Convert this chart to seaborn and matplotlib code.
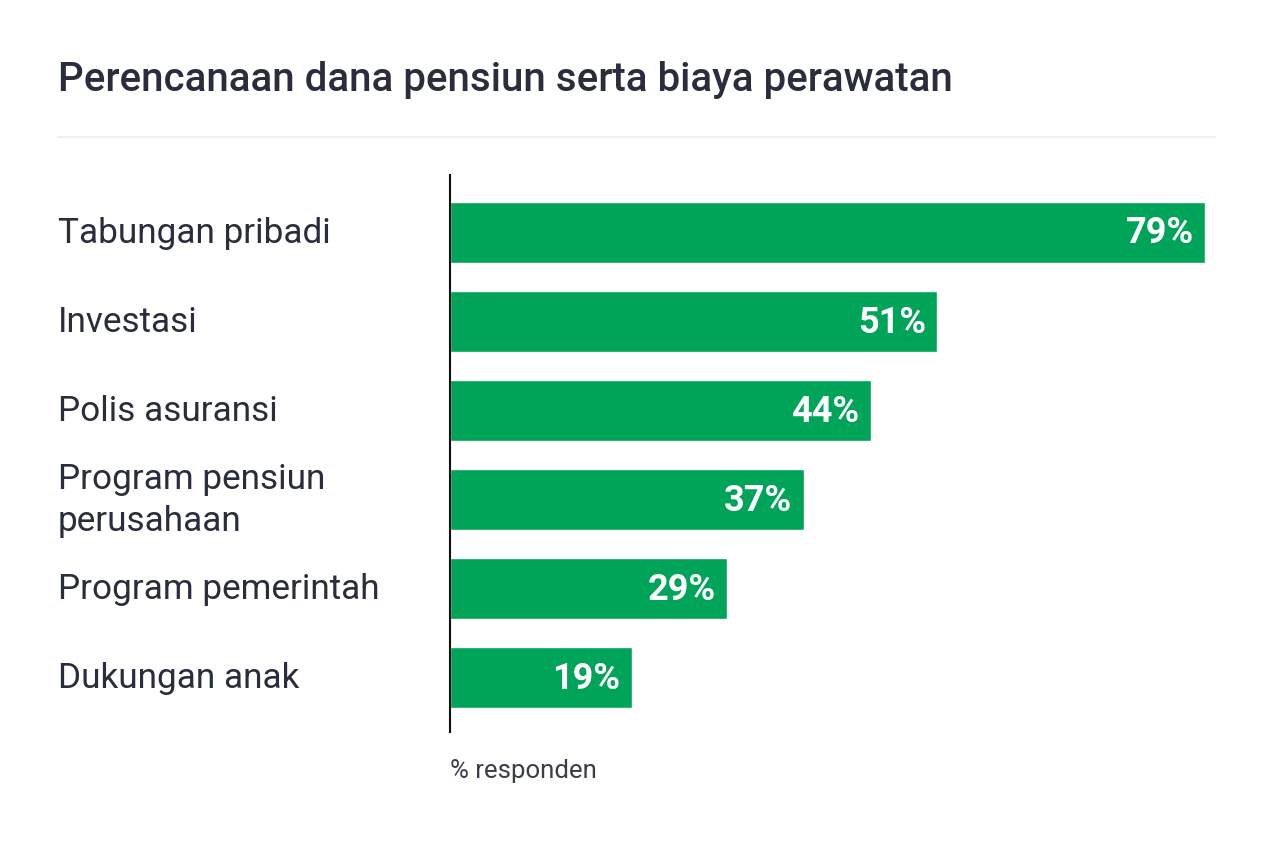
import matplotlib
matplotlib.use("Agg")
import matplotlib.pyplot as plt
import seaborn as sns
import pandas as pd

# data
kategori = [
    "Tabungan pribadi",
    "Investasi",
    "Polis asuransi",
    "Program pensiun\nperusahaan",
    "Program pemerintah",
    "Dukungan anak",
]
persen = [79, 51, 44, 37, 29, 19]
judul = "Perencanaan dana pensiun serta biaya perawatan"
catatan = "% responden"

HIJAU = "#00a458"
TEKS = "#2a2d3e"

sns.set_style("white")
plt.rcParams["font.family"] = ["Roboto", "DejaVu Sans"]

df = pd.DataFrame({"kategori": kategori, "persen": persen})

fig = plt.figure(figsize=(12.8, 8.53), dpi=100)
W, H = 1280, 853
ax = fig.add_axes([450 / W, 1 - 733 / H, (1205 - 450) / W, (733 - 176) / H])

sns.barplot(data=df, x="persen", y="kategori", color=HIJAU, width=0.685,
            saturation=1, ax=ax, orient="h")

ax.set_xlim(0, 79)
ax.set_ylim(5.612, -0.646)
ax.set_xlabel("")
ax.set_ylabel("")
ax.set_xticks([])
ax.set_yticks([])
for s in ["top", "right", "bottom"]:
    ax.spines[s].set_visible(False)
ax.spines["left"].set_color("#111111")
ax.spines["left"].set_linewidth(1.5)

# label kategori di kiri
x_label = -(450 - 58) / 755 * 79
for i, k in enumerate(kategori):
    ax.text(x_label, i, k, ha="left", va="center",
            fontsize=25.3, color=TEKS, linespacing=1.38)

# angka di dalam batang
for i, v in enumerate(persen):
    ax.text(v - 1.2, i, f"{v}%", ha="right", va="center",
            fontsize=26, fontweight="semibold", color="white")

fig.text(58 / W, 1 - 80 / H, judul, ha="left", va="center",
         fontsize=29, fontweight="medium", color=TEKS)
fig.add_artist(plt.Line2D([58 / W, 1215 / W], [1 - 138 / H, 1 - 138 / H],
                          color="#ededed", linewidth=1.5, transform=fig.transFigure))
fig.text(450 / W, 1 - 771 / H, catatan, ha="left", va="center",
         fontsize=18.5, color="#3a3d4a")

fig.savefig("out.png", dpi=100, facecolor="white")
